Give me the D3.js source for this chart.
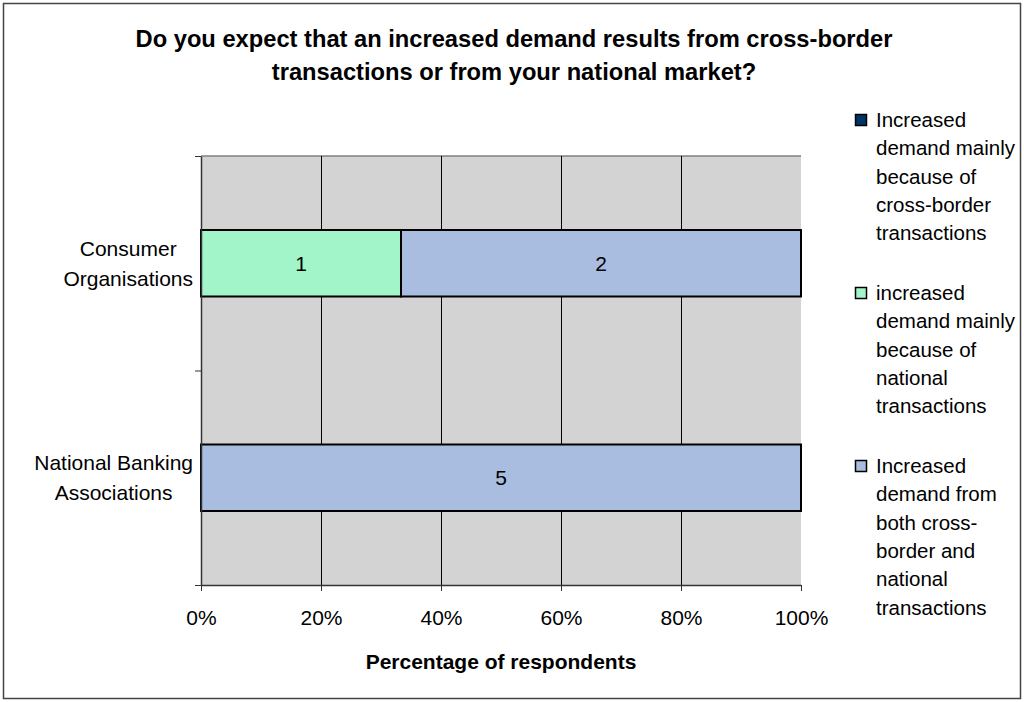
<!DOCTYPE html>
<html>
<head>
<meta charset="utf-8">
<script src="https://cdn.jsdelivr.net/npm/d3@7"></script>
<style>
    body { margin: 0; background: #fff; }
    svg { display: block; font-family: 'Liberation Sans', Arial, sans-serif; }
</style>
</head>
<body>
<div id="chart"></div>
<script>
//chart data
var categories = ['Consumer Organisations', 'National Banking Associations'];
var seriesNames = [
    'Increased demand mainly because of cross-border transactions',
    'increased demand mainly because of national transactions',
    'Increased demand from both cross-border and national transactions'
];
var crossBorder = [0, 0];
var national = [1, 0];
var both = [2, 5];
var xTicks = [0, 0.2, 0.4, 0.6, 0.8, 1];

//category label lines and legend label lines
var categoryLines = [['Consumer', 'Organisations'], ['National Banking', 'Associations']];
var legendLines = [
    ['Increased', 'demand mainly', 'because of', 'cross-border', 'transactions'],
    ['increased', 'demand mainly', 'because of', 'national', 'transactions'],
    ['Increased', 'demand from', 'both cross-', 'border and', 'national', 'transactions']
];

(function () {
    var width = 1024,
        height = 702,
        plot = { left: 201, top: 156, right: 801, bottom: 585 },
        colors = ['#003366', '#a2f5c8', '#a8bde0'],
        keys = ['crossBorder', 'national', 'both'];

    //build rows for the stack
    var rows = categories.map(function (c, i) {
        return { category: c, crossBorder: crossBorder[i], national: national[i], both: both[i] };
    });

    var stacked = d3.stack().keys(keys).offset(d3.stackOffsetExpand)(rows);

    //create svg
    var svg = d3.select('#chart').append('svg')
        .attr('width', width)
        .attr('height', height);

    //outer chart border
    svg.append('rect')
        .attr('x', 3.5).attr('y', 3.5)
        .attr('width', width - 7).attr('height', height - 7)
        .attr('fill', '#fff')
        .attr('stroke', '#444')
        .attr('stroke-width', 1.5);

    //scales
    var x = d3.scaleLinear().domain([0, 1]).range([plot.left, plot.right]);
    var y = d3.scaleBand().domain(categories).range([plot.top, plot.bottom])
        .paddingInner(0.69).paddingOuter(0.345);
    var yEdge = d3.scaleLinear().domain([0, categories.length]).range([plot.top, plot.bottom]);

    //plot background
    svg.append('rect')
        .attr('x', plot.left).attr('y', plot.top)
        .attr('width', plot.right - plot.left).attr('height', plot.bottom - plot.top)
        .attr('fill', '#d3d3d3');

    //top plot border
    svg.append('line')
        .attr('x1', plot.left).attr('x2', plot.right)
        .attr('y1', plot.top).attr('y2', plot.top)
        .attr('stroke', '#808080').attr('stroke-width', 1.5);

    //vertical gridlines
    svg.append('g').selectAll('line')
        .data(xTicks.slice(1, -1))
        .enter().append('line')
        .attr('x1', function (d) { return Math.round(x(d)) + 0.5; })
        .attr('x2', function (d) { return Math.round(x(d)) + 0.5; })
        .attr('y1', plot.top).attr('y2', plot.bottom)
        .attr('stroke', '#000').attr('stroke-width', 1);

    //stacked bars
    var layers = svg.append('g').selectAll('g')
        .data(stacked)
        .enter().append('g')
        .attr('fill', function (d, i) { return colors[i]; });

    layers.selectAll('rect')
        .data(function (d) { return d.filter(function (s) { return s[1] - s[0] > 0; }); })
        .enter().append('rect')
        .attr('x', function (d) { return x(d[0]); })
        .attr('width', function (d) { return x(d[1]) - x(d[0]); })
        .attr('y', function (d) { return y(d.data.category); })
        .attr('height', y.bandwidth())
        .attr('stroke', '#000')
        .attr('stroke-width', 2);

    //value labels
    stacked.forEach(function (layer) {
        svg.append('g').selectAll('text')
            .data(layer.filter(function (s) { return s[1] - s[0] > 0; }))
            .enter().append('text')
            .attr('x', function (d) { return (x(d[0]) + x(d[1])) / 2; })
            .attr('y', function (d) { return y(d.data.category) + y.bandwidth() / 2; })
            .attr('dy', '0.35em')
            .attr('text-anchor', 'middle')
            .attr('font-size', 21)
            .text(function (d) { return d.data[layer.key]; });
    });

    //x axis
    var xAxis = svg.append('g')
        .attr('transform', 'translate(0,' + plot.bottom + ')')
        .call(d3.axisBottom(x).tickValues(xTicks).tickFormat(d3.format('.0%'))
            .tickSize(6).tickSizeOuter(0).tickPadding(19));
    xAxis.select('.domain').attr('stroke', '#333').attr('stroke-width', 1.5);
    xAxis.selectAll('.tick line').attr('stroke', '#333');
    xAxis.selectAll('text').attr('font-size', 21).attr('fill', '#000')
        .attr('font-family', "'Liberation Sans', Arial, sans-serif");

    //y axis with ticks at category edges
    var yAxis = svg.append('g')
        .attr('transform', 'translate(' + plot.left + ',0)')
        .call(d3.axisLeft(yEdge).tickValues(d3.range(categories.length + 1))
            .tickFormat('').tickSize(6).tickSizeOuter(0));
    yAxis.select('.domain').attr('stroke', '#333').attr('stroke-width', 1.5);
    yAxis.selectAll('.tick line').attr('stroke', '#333');

    //category labels, lines centred on each other, block right aligned
    categories.forEach(function (c, i) {
        var lines = categoryLines[i],
            cy = y(c) + y.bandwidth() / 2;
        var label = svg.append('text')
            .attr('text-anchor', 'middle')
            .attr('font-size', 21);
        var spans = label.selectAll('tspan')
            .data(lines)
            .enter().append('tspan')
            .attr('y', function (d, j) { return cy + (j - (lines.length - 1) / 2) * 30; })
            .attr('dy', '0.35em')
            .text(function (d) { return d; });

        //measure widest line to right align the block
        var maxW = 0;
        spans.each(function () { maxW = Math.max(maxW, this.getComputedTextLength()); });
        spans.attr('x', 193 - maxW / 2);
    });

    //title
    svg.append('text')
        .attr('text-anchor', 'middle')
        .attr('font-size', 23.7)
        .attr('font-weight', 'bold')
        .selectAll('tspan')
        .data(['Do you expect that an increased demand results from cross-border',
            'transactions or from your national market?'])
        .enter().append('tspan')
        .attr('x', 514)
        .attr('y', function (d, i) { return 39 + i * 33; })
        .attr('dy', '0.35em')
        .text(function (d) { return d; });

    //x axis title
    svg.append('text')
        .attr('x', (plot.left + plot.right) / 2)
        .attr('y', 662)
        .attr('dy', '0.35em')
        .attr('text-anchor', 'middle')
        .attr('font-size', 21)
        .attr('font-weight', 'bold')
        .text('Percentage of respondents');

    //legend
    var legendTops = [120, 293, 466];
    var legend = svg.append('g').selectAll('g')
        .data(seriesNames)
        .enter().append('g')
        .attr('transform', function (d, i) { return 'translate(855,' + legendTops[i] + ')'; });

    legend.append('rect')
        .attr('x', 0.5).attr('y', -5.5)
        .attr('width', 11).attr('height', 11)
        .attr('fill', function (d, i) { return colors[i]; })
        .attr('stroke', '#000')
        .attr('stroke-width', 1.5);

    legend.append('text')
        .attr('font-size', 20.5)
        .selectAll('tspan')
        .data(function (d, i) { return legendLines[i]; })
        .enter().append('tspan')
        .attr('x', 21)
        .attr('y', function (d, j) { return j * 28.3; })
        .attr('dy', '0.35em')
        .text(function (d) { return d; });
})();
</script>
</body>
</html>
